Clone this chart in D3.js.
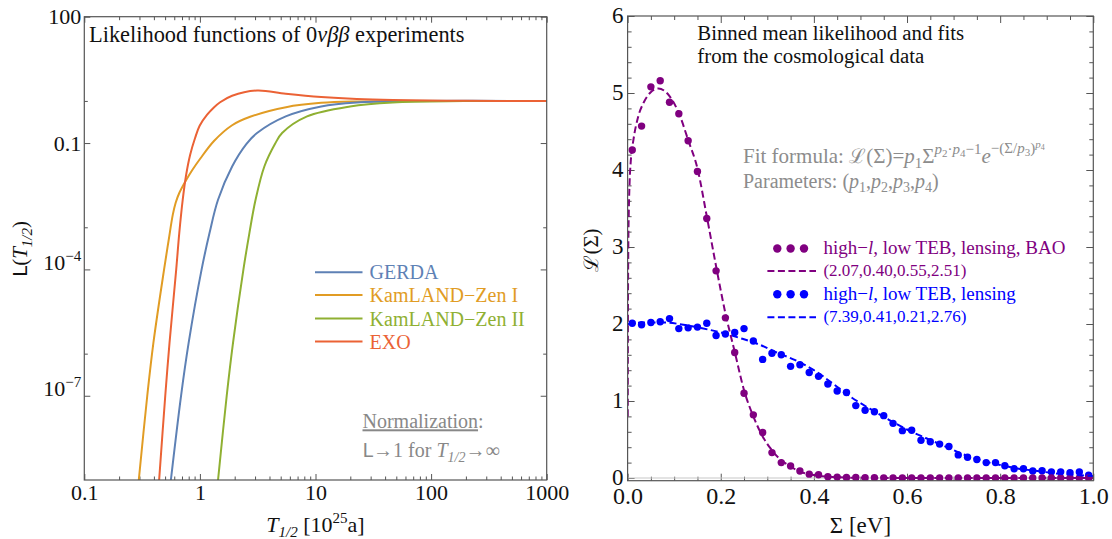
<!DOCTYPE html>
<html><head><meta charset="utf-8">
<script src="https://cdn.jsdelivr.net/npm/d3@7"></script>
<style>
body{margin:0;background:#fff}
svg{display:block}
text{font-family:"Liberation Serif","Times New Roman",serif}
</style></head>
<body><svg id="c" width="1112" height="539"></svg>
<script>
// ---------------- LEFT PANEL DATA (T_1/2 in 1e25 a, likelihood L) ----------------
const gerdaT = [0.561,0.687,0.799,1.035,1.211,1.435,1.90,2.53,3.12,5.53,11.2,22.8,66.4,1000];
const gerdaL = [1e-9,1e-7,1.8e-6,1e-4,7.3e-4,4.5e-3,0.0278,0.096,0.173,0.43,0.74,0.92,0.99,1.0];
const kz1T = [0.296,0.3505,0.396,0.49,0.537,0.583,0.6172,0.6618,0.746,0.857,1.005,1.33,1.90,2.72,5.56,11.2,22.8,46.7,192,1000];
const kz1L = [1e-9,1e-7,1.8e-6,1e-4,5.0e-4,2.0e-3,3.82e-3,6.42e-3,0.01205,0.0226,0.0424,0.1135,0.265,0.42,0.71,0.90,0.973,0.99,1.0,1.0];
const kz2T = [1.435,1.706,1.934,2.38,2.68,3.03,3.61,4.47,5.14,8.45,19.9,46.6,192,1000];
const kz2L = [1e-9,1e-7,1.8e-6,1e-4,7.3e-4,4.5e-3,0.0278,0.096,0.173,0.43,0.74,0.92,0.99,1.0];
const exoT = [0.444,0.5016,0.546,0.624,0.663,0.71,0.7606,0.8237,0.9097,0.995,1.155,1.328,1.496,1.90,3.12,5.53,11.2,22.8,46.7,192,1000];
const exoL = [1e-9,1e-7,1.8e-6,1e-4,7.3e-4,4.5e-3,0.01766,0.0527,0.1336,0.2576,0.47,0.708,0.931,1.33,1.77,1.48,1.24,1.11,1.05,1.01,1.0];
const expNames = ["GERDA","KamLAND\u2212Zen I","KamLAND\u2212Zen II","EXO"];
const expColors = ["#5E81B5","#E19C24","#8FB032","#EB6235"];
const xTicksL = [0.1,1,10,100,1000];
const yTicksL = [1e-7,1e-4,0.1,100];
const yMinorL = [1,1e-3,1e-6];

// ---------------- RIGHT PANEL DATA (Sigma in eV, binned likelihood) ----------------
const sigmaBins = [0.01,0.03,0.05,0.07,0.09,0.11,0.13,0.15,0.17,0.19,0.21,0.23,0.25,0.27,0.29,0.31,0.33,0.35,0.37,0.39,
  0.41,0.43,0.45,0.47,0.49,0.51,0.53,0.55,0.57,0.59,0.61,0.63,0.65,0.67,0.69,0.71,0.73,0.75,0.77,0.79,
  0.81,0.83,0.85,0.87,0.89,0.91,0.93,0.95,0.97,0.99];
const baoVals = [4.26,4.57,5.08,5.16,4.88,4.73,4.38,3.98,3.37,2.69,2.08,1.63,1.10,0.82,0.59,0.33,0.20,0.156,0.09,0.05,
  0.043,0.017,0.012,0.008,0.006,0.004,0.003,0.002,0.002,0.001,0.001,0.001,0.001,0.001,0.001,0.001,0,0,0,0,
  0,0,0,0,0,0,0,0,0,0];
const lensVals = [2.01,1.99,2.02,2.03,2.07,1.94,1.95,1.96,2.01,1.85,1.87,1.89,1.94,1.78,1.54,1.62,1.60,1.45,1.47,1.37,
  1.32,1.22,1.13,1.11,0.94,0.88,0.86,0.81,0.71,0.615,0.62,0.49,0.47,0.44,0.41,0.30,0.27,0.24,0.20,0.20,
  0.16,0.12,0.12,0.09,0.095,0.08,0.08,0.07,0.078,0.035];
const baoFitS = [0.0003,0.0008,0.0015,0.0025,0.004,0.007,0.0125,0.023,0.034,0.048,0.066,0.09,0.11,0.13,0.15,0.17,0.19,0.21,0.23,0.25,0.27,0.29,0.31,0.33,0.35,0.37,0.39,0.41,0.45,0.5,0.6,1.0];
const baoFitV = [0.8,2.2,3.0,3.44,3.79,4.13,4.39,4.70,4.87,5.00,5.06,4.96,4.74,4.39,4.02,3.40,2.75,2.14,1.64,1.14,0.80,0.54,0.36,0.23,0.15,0.08,0.05,0.03,0.01,0.003,0,0];
const lensFitS = [0,0.04,0.08,0.12,0.16,0.20,0.24,0.28,0.32,0.36,0.40,0.44,0.48,0.52,0.56,0.60,0.64,0.68,0.72,0.76,0.80,0.84,0.88,0.92,0.96,1.0];
const lensFitV = [2.00,2.02,2.02,1.99,1.945,1.89,1.82,1.74,1.63,1.53,1.40,1.23,1.05,0.90,0.76,0.63,0.52,0.415,0.31,0.225,0.17,0.12,0.09,0.06,0.04,0.026];
const xTicksR = [0,0.2,0.4,0.6,0.8,1.0];
const yTicksR = [0,1,2,3,4,5,6];
const seriesNames = ["high\u2212l, low TEB, lensing, BAO","high\u2212l, low TEB, lensing"];
const seriesParams = ["(2.07,0.40,0.55,2.51)","(7.39,0.41,0.21,2.76)"];
const seriesColors = ["#800080","#0000FF"];

// ---------------- helpers ----------------
const svg = d3.select("#c");
function rich(sel, segs, base){
  let cur = 0;
  segs.forEach(s=>{
    const off = s.b||0;
    const t = sel.append("tspan").text(s.t).attr("dy", off-cur);
    cur = off;
    if(s.i) t.attr("font-style","italic");
    t.attr("font-size", s.s||base);
    if(s.f) t.attr("font-family", s.f);
  });
  return sel;
}
const frameCol = "#555";
function axesGroup(g, axis){ g.call(axis); g.select(".domain").remove(); g.selectAll(".tick line").attr("stroke",frameCol); return g; }

// ================= LEFT PANEL =================
const PL = {x0:84.3, x1:546.7, y0:16.7, y1:480};
const xL = d3.scaleLog().domain([0.1,1000]).range([PL.x0,PL.x1]);
const yL = d3.scaleLog().domain([1e-9,100]).range([PL.y1,PL.y0]);
svg.append("clipPath").attr("id","clipL").append("rect")
  .attr("x",PL.x0).attr("y",PL.y0).attr("width",PL.x1-PL.x0).attr("height",PL.y1-PL.y0);
const minorXL = [];
[0.1,1,10,100].forEach(d=>{for(let k=2;k<=9;k++) minorXL.push(d*k);});
const supFmt = {1e-7:"\u22127",1e-4:"\u22124"};

const gxb = axesGroup(svg.append("g").attr("transform",`translate(0,${PL.y1})`),
  d3.axisBottom(xL).tickValues(xTicksL).tickSizeInner(-6).tickSizeOuter(0).tickFormat(d=>String(d)));
gxb.selectAll("text").attr("font-size",22).attr("fill","#111").attr("dy",0).attr("y",20);
axesGroup(svg.append("g").attr("transform",`translate(0,${PL.y1})`),
  d3.axisBottom(xL).tickValues(minorXL).tickSizeInner(-3.5).tickSizeOuter(0).tickFormat(""));
axesGroup(svg.append("g").attr("transform",`translate(0,${PL.y0})`),
  d3.axisTop(xL).tickValues(xTicksL).tickSizeInner(-6).tickSizeOuter(0).tickFormat(""));
axesGroup(svg.append("g").attr("transform",`translate(0,${PL.y0})`),
  d3.axisTop(xL).tickValues(minorXL).tickSizeInner(-3.5).tickSizeOuter(0).tickFormat(""));
const gyl = axesGroup(svg.append("g").attr("transform",`translate(${PL.x0},0)`),
  d3.axisLeft(yL).tickValues(yTicksL).tickSizeInner(-6).tickSizeOuter(0).tickFormat(""));
gyl.selectAll(".tick").each(function(d){
  const t = d3.select(this).append("text").attr("x",-3).attr("dy","0.33em").attr("text-anchor","end")
    .attr("font-size",22).attr("fill","#111");
  if(supFmt[d]){ rich(t,[{t:"10"},{t:supFmt[d],s:15,b:-9}],22); }
  else t.text(String(d));
});
axesGroup(svg.append("g").attr("transform",`translate(${PL.x0},0)`),
  d3.axisLeft(yL).tickValues(yMinorL).tickSizeInner(-3.5).tickSizeOuter(0).tickFormat(""));
axesGroup(svg.append("g").attr("transform",`translate(${PL.x1},0)`),
  d3.axisRight(yL).tickValues(yTicksL).tickSizeInner(-6).tickSizeOuter(0).tickFormat(""));
axesGroup(svg.append("g").attr("transform",`translate(${PL.x1},0)`),
  d3.axisRight(yL).tickValues(yMinorL).tickSizeInner(-3.5).tickSizeOuter(0).tickFormat(""));

const expData = [[gerdaT,gerdaL],[kz1T,kz1L],[kz2T,kz2L],[exoT,exoL]];
const lineL = d3.line().x(d=>xL(d[0])).y(d=>yL(d[1])).curve(d3.curveCatmullRom.alpha(0.5));
const gc = svg.append("g").attr("clip-path","url(#clipL)");
[1,0,2,3].forEach(i=>{
  const pts = expData[i][0].map((t,j)=>[t,expData[i][1][j]]);
  gc.append("path").attr("d",lineL(pts)).attr("fill","none").attr("stroke",expColors[i]).attr("stroke-width",2);
});
svg.append("rect").attr("x",PL.x0).attr("y",PL.y0).attr("width",PL.x1-PL.x0).attr("height",PL.y1-PL.y0)
  .attr("fill","none").attr("stroke",frameCol).attr("stroke-width",1.2);

const legY = [272.3,295,318.5,341.5];
expNames.forEach((n,i)=>{
  svg.append("line").attr("x1",315).attr("x2",362.5).attr("y1",legY[i]).attr("y2",legY[i])
    .attr("stroke",expColors[i]).attr("stroke-width",2);
  svg.append("text").attr("x",369.6).attr("y",legY[i]+7).attr("font-size",20).attr("fill",expColors[i]).text(n);
});
rich(svg.append("text").attr("x",89).attr("y",42).attr("fill","#111"),
  [{t:"Likelihood functions of 0"},{t:"\u03bd\u03b2\u03b2",i:1},{t:" experiments"}],22.4);
const nt = svg.append("text").attr("x",362.5).attr("y",428.3).attr("fill","#888").attr("font-size",20);
nt.append("tspan").text("Normalization").attr("text-decoration","underline");
nt.append("tspan").text(":");
rich(svg.append("text").attr("x",362.5).attr("y",456.7).attr("fill","#888"),
  [{t:"L",f:"DejaVu Sans",s:19},{t:"\u21921 for "},{t:"T",i:1},{t:"1/2",i:1,s:14,b:5},{t:"\u2192\u221e",b:0}],20);
rich(svg.append("text").attr("x",(PL.x0+PL.x1)/2).attr("y",532).attr("text-anchor","middle").attr("fill","#111"),
  [{t:"T",i:1},{t:"1/2",i:1,s:15,b:5},{t:" [10",b:0},{t:"25",s:15,b:-9},{t:"a]",b:0}],22);
rich(svg.append("text").attr("transform","translate(27,249) rotate(-90)").attr("text-anchor","middle").attr("fill","#111"),
  [{t:"L",f:"DejaVu Sans",s:20},{t:"("},{t:"T",i:1},{t:"1/2",i:1,s:15,b:5},{t:")",b:0}],21);

// ================= RIGHT PANEL =================
const PR = {x0:627.6, x1:1093.3, y0:16, y1:480.7};
const xR = d3.scaleLinear().domain([0,1]).range([PR.x0,PR.x1]);
const yR = d3.scaleLinear().domain([-0.035,6]).range([PR.y1,PR.y0]);
svg.append("clipPath").attr("id","clipR").append("rect")
  .attr("x",PR.x0).attr("y",PR.y0).attr("width",PR.x1-PR.x0).attr("height",PR.y1-PR.y0);
const minorXR = [], minorYR = [];
for(let i=0;i<20;i++){ if(i%4) minorXR.push(i*0.05); }
for(let i=0;i<30;i++){ if(i%5) minorYR.push(i*0.2); }

const gxr = axesGroup(svg.append("g").attr("transform",`translate(0,${PR.y1})`),
  d3.axisBottom(xR).tickValues(xTicksR).tickSizeInner(-7).tickSizeOuter(0).tickFormat(d3.format(".1f")));
gxr.selectAll("text").attr("font-size",24).attr("fill","#111").attr("dy",0).attr("y",23.5);
axesGroup(svg.append("g").attr("transform",`translate(0,${PR.y1})`),
  d3.axisBottom(xR).tickValues(minorXR).tickSizeInner(-4).tickSizeOuter(0).tickFormat(""));
axesGroup(svg.append("g").attr("transform",`translate(0,${PR.y0})`),
  d3.axisTop(xR).tickValues(xTicksR).tickSizeInner(-7).tickSizeOuter(0).tickFormat(""));
axesGroup(svg.append("g").attr("transform",`translate(0,${PR.y0})`),
  d3.axisTop(xR).tickValues(minorXR).tickSizeInner(-4).tickSizeOuter(0).tickFormat(""));
const gyr = axesGroup(svg.append("g").attr("transform",`translate(${PR.x0},0)`),
  d3.axisLeft(yR).tickValues(yTicksR).tickSizeInner(-7).tickSizeOuter(0).tickPadding(4).tickFormat(d3.format("d")));
gyr.selectAll("text").attr("font-size",23).attr("fill","#111").attr("dy","0.3em");
axesGroup(svg.append("g").attr("transform",`translate(${PR.x0},0)`),
  d3.axisLeft(yR).tickValues(minorYR).tickSizeInner(-4).tickSizeOuter(0).tickFormat(""));
axesGroup(svg.append("g").attr("transform",`translate(${PR.x1},0)`),
  d3.axisRight(yR).tickValues(yTicksR).tickSizeInner(-7).tickSizeOuter(0).tickFormat(""));
axesGroup(svg.append("g").attr("transform",`translate(${PR.x1},0)`),
  d3.axisRight(yR).tickValues(minorYR).tickSizeInner(-4).tickSizeOuter(0).tickFormat(""));

const gr = svg.append("g").attr("clip-path","url(#clipR)");
gr.append("line").attr("x1",PR.x0).attr("x2",PR.x1).attr("y1",yR(0)).attr("y2",yR(0)).attr("stroke","#c8c8c8").attr("stroke-width",1.2);
const lineR = d3.line().x(d=>xR(d[0])).y(d=>yR(d[1])).curve(d3.curveMonotoneX);
const fits = [[baoFitS,baoFitV],[lensFitS,lensFitV]];
const ptsR = [baoVals,lensVals];
[1,0].forEach(i=>{
  gr.selectAll(null).data(sigmaBins.map((s,j)=>[s,ptsR[i][j]])).enter().append("circle")
    .attr("cx",d=>xR(d[0])).attr("cy",d=>yR(d[1])).attr("r",3.7).attr("fill",seriesColors[i]);
});
[1,0].forEach(i=>{
  gr.append("path").attr("d",lineR(fits[i][0].map((s,j)=>[s,fits[i][1][j]])))
    .attr("fill","none").attr("stroke",seriesColors[i]).attr("stroke-width",2).attr("stroke-dasharray","7,3.5");
});
svg.append("rect").attr("x",PR.x0).attr("y",PR.y0).attr("width",PR.x1-PR.x0).attr("height",PR.y1-PR.y0)
  .attr("fill","none").attr("stroke",frameCol).attr("stroke-width",1.2);

svg.append("text").attr("x",697.3).attr("y",40).attr("font-size",20.8).attr("fill","#111").text("Binned mean likelihood and fits");
svg.append("text").attr("x",697.3).attr("y",63).attr("font-size",20.8).attr("fill","#111").text("from the cosmological data");
const gray = "#8c8c8c";
rich(svg.append("text").attr("x",743).attr("y",162.7).attr("fill",gray),
  [{t:"Fit formula: "},{t:"\u2112",f:"DejaVu Serif",s:20},{t:"(\u03a3)="},{t:"p",i:1},{t:"1",s:15,b:5},{t:"\u03a3",b:0},
   {t:"p",i:1,s:15,b:-9},{t:"2",s:11,b:-6},{t:"\u00b7",s:15,b:-9},{t:"p",i:1,s:15,b:-9},{t:"4",s:11,b:-6},{t:"\u22121",s:15,b:-9},
   {t:"e",i:1,b:0},{t:"\u2212(\u03a3/",s:15,b:-10},{t:"p",i:1,s:15,b:-10},{t:"3",s:11,b:-7},{t:")",s:15,b:-10},{t:"p",i:1,s:11,b:-15},{t:"4",s:8,b:-13}],21);
rich(svg.append("text").attr("x",743).attr("y",188.3).attr("fill",gray),
  [{t:"Parameters: ("},{t:"p",i:1},{t:"1",s:14,b:4},{t:",",b:0},{t:"p",i:1},{t:"2",s:14,b:4},{t:",",b:0},
   {t:"p",i:1},{t:"3",s:14,b:4},{t:",",b:0},{t:"p",i:1},{t:"4",s:14,b:4},{t:")",b:0}],20);

const legR = [[248.5,271],[294.3,317.3]];
seriesNames.forEach((n,i)=>{
  [777.3,790.6,804].forEach(cx=>svg.append("circle").attr("cx",cx).attr("cy",legR[i][0]).attr("r",4.2).attr("fill",seriesColors[i]));
  const parts = n.split("l,");
  rich(svg.append("text").attr("x",823.4).attr("y",legR[i][0]+5.5).attr("fill",seriesColors[i]),
    [{t:parts[0]},{t:"l",i:1},{t:","+parts[1]}],19);
  svg.append("line").attr("x1",767.4).attr("x2",816).attr("y1",legR[i][1]).attr("y2",legR[i][1])
    .attr("stroke",seriesColors[i]).attr("stroke-width",2).attr("stroke-dasharray","7,3.5");
  svg.append("text").attr("x",823.4).attr("y",legR[i][1]+5).attr("font-size",17).attr("fill",seriesColors[i]).text(seriesParams[i]);
});
svg.append("text").attr("x",(PR.x0+PR.x1)/2).attr("y",533).attr("text-anchor","middle").attr("font-size",23).attr("fill","#111").text("\u03a3 [eV]");
rich(svg.append("text").attr("transform","translate(598,250) rotate(-90)").attr("text-anchor","middle").attr("fill","#111"),
  [{t:"\u2112",f:"DejaVu Serif",s:20},{t:"(\u03a3)"}],21);
</script></body></html>
